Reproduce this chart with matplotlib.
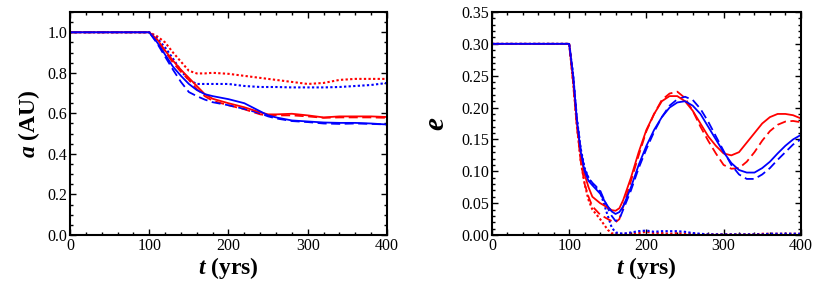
import numpy as np
import matplotlib.pyplot as plt
from matplotlib.ticker import MultipleLocator

plt.rcParams['font.family'] = ['Liberation Serif', 'DejaVu Serif']
plt.rcParams['mathtext.fontset'] = 'custom'
plt.rcParams['mathtext.rm'] = 'Liberation Serif'
plt.rcParams['mathtext.it'] = 'Liberation Serif:italic:bold'
plt.rcParams['mathtext.bf'] = 'Liberation Serif:bold'

# semi-major axis, time in yrs
t_a = [0, 100, 110, 120, 130, 140, 150, 160, 170, 180, 200, 220, 240, 250, 260, 280, 300, 320, 340, 360, 380, 400]
a_red_solid = [1.0, 1.0, 0.965, 0.91, 0.86, 0.815, 0.775, 0.735, 0.695, 0.672, 0.65, 0.63, 0.605, 0.595, 0.595, 0.598, 0.59, 0.58, 0.585, 0.585, 0.585, 0.582]
a_red_dash = [1.0, 1.0, 0.96, 0.905, 0.85, 0.805, 0.765, 0.72, 0.685, 0.662, 0.64, 0.62, 0.595, 0.59, 0.59, 0.59, 0.585, 0.578, 0.58, 0.58, 0.58, 0.578]
a_red_dot = [1.0, 1.0, 0.98, 0.95, 0.90, 0.855, 0.81, 0.797, 0.797, 0.80, 0.795, 0.785, 0.775, 0.77, 0.765, 0.755, 0.745, 0.75, 0.765, 0.77, 0.77, 0.77]
a_blue_solid = [1.0, 1.0, 0.95, 0.89, 0.83, 0.785, 0.745, 0.715, 0.695, 0.685, 0.67, 0.65, 0.61, 0.59, 0.58, 0.565, 0.56, 0.555, 0.553, 0.553, 0.55, 0.545]
a_blue_dash = [1.0, 1.0, 0.945, 0.88, 0.815, 0.755, 0.705, 0.685, 0.668, 0.655, 0.64, 0.622, 0.60, 0.585, 0.575, 0.562, 0.557, 0.55, 0.548, 0.55, 0.548, 0.545]
a_blue_dot = [1.0, 1.0, 0.97, 0.925, 0.87, 0.81, 0.765, 0.745, 0.745, 0.745, 0.745, 0.735, 0.73, 0.73, 0.73, 0.728, 0.728, 0.728, 0.73, 0.735, 0.74, 0.75]

# eccentricity
t_e = [0, 100, 105, 110, 115, 120, 125, 130, 140, 150, 155, 160, 165, 170, 180, 190, 200, 210, 220, 230, 240, 250, 260, 270, 280, 290, 300, 310, 320, 330, 340, 350, 360, 370, 380, 390, 400]
e_red_solid = [0.30, 0.30, 0.245, 0.175, 0.125, 0.095, 0.075, 0.06, 0.05, 0.043, 0.039, 0.038, 0.042, 0.055, 0.09, 0.13, 0.165, 0.19, 0.21, 0.218, 0.218, 0.21, 0.195, 0.175, 0.155, 0.14, 0.128, 0.125, 0.13, 0.145, 0.16, 0.175, 0.185, 0.19, 0.19, 0.188, 0.183]
e_red_dash = [0.30, 0.30, 0.24, 0.17, 0.115, 0.08, 0.06, 0.045, 0.032, 0.025, 0.022, 0.02, 0.025, 0.045, 0.085, 0.125, 0.163, 0.19, 0.212, 0.222, 0.225, 0.215, 0.195, 0.17, 0.148, 0.128, 0.11, 0.104, 0.105, 0.115, 0.13, 0.148, 0.163, 0.173, 0.178, 0.179, 0.177]
e_red_dot = [0.30, 0.30, 0.24, 0.17, 0.115, 0.08, 0.055, 0.04, 0.025, 0.008, 0.003, 0.001, 0.001, 0.002, 0.002, 0.003, 0.005, 0.003, 0.003, 0.002, 0.003, 0.002, 0.002, 0.001, 0.001, 0.001, 0.001, 0.001, 0.001, 0.001, 0.001, 0.002, 0.002, 0.002, 0.002, 0.002, 0.002]
e_blue_solid = [0.30, 0.30, 0.25, 0.18, 0.13, 0.10, 0.085, 0.078, 0.065, 0.045, 0.037, 0.033, 0.036, 0.045, 0.075, 0.11, 0.14, 0.165, 0.185, 0.20, 0.208, 0.21, 0.203, 0.19, 0.17, 0.15, 0.13, 0.113, 0.102, 0.098, 0.098, 0.105, 0.115, 0.128, 0.14, 0.15, 0.157]
e_blue_dash = [0.30, 0.30, 0.252, 0.182, 0.133, 0.103, 0.09, 0.082, 0.07, 0.042, 0.03, 0.022, 0.025, 0.04, 0.07, 0.105, 0.135, 0.162, 0.185, 0.203, 0.213, 0.217, 0.212, 0.198, 0.178, 0.155, 0.132, 0.11, 0.095, 0.088, 0.088, 0.095, 0.105, 0.118, 0.13, 0.142, 0.15]
e_blue_dot = [0.30, 0.30, 0.252, 0.182, 0.135, 0.105, 0.09, 0.08, 0.068, 0.03, 0.012, 0.004, 0.003, 0.002, 0.004, 0.006, 0.007, 0.005, 0.006, 0.006, 0.006, 0.005, 0.003, 0.002, 0.001, 0.001, 0.001, 0.001, 0.001, 0.001, 0.001, 0.001, 0.002, 0.002, 0.002, 0.002, 0.002]

RED = '#ff0000'
BLUE = '#0000ff'

fig = plt.figure(figsize=(8.3, 2.94), dpi=100)
ax1 = fig.add_axes([0.0843, 0.2007, 0.382, 0.7585])
ax2 = fig.add_axes([0.5928, 0.2007, 0.372, 0.7585])

def style(ax, ymax, ymaj, ymin, fmt):
    ax.set_xlim(0, 400)
    ax.set_ylim(0, ymax)
    ax.xaxis.set_major_locator(MultipleLocator(100))
    ax.xaxis.set_minor_locator(MultipleLocator(20))
    ax.yaxis.set_major_locator(MultipleLocator(ymaj))
    ax.yaxis.set_minor_locator(MultipleLocator(ymin))
    ax.yaxis.set_major_formatter(plt.FormatStrFormatter(fmt))
    ax.tick_params(which='both', direction='in', top=True, right=True, labelsize=11.5, width=1.0, pad=2)
    ax.tick_params(which='major', length=4)
    ax.tick_params(which='minor', length=2)
    for s in ax.spines.values():
        s.set_linewidth(1.5)
    ax.set_xlabel(r'$t$ (yrs)', fontsize=17, fontweight='bold', labelpad=1)

lw = 1.3
dot = (0, (1.1, 1.1))
dash = (0, (5, 2.5))
ax1.plot(t_a, a_red_dot, color=RED, ls=dot, lw=1.5)
ax1.plot(t_a, a_blue_dot, color=BLUE, ls=dot, lw=1.5)
ax1.plot(t_a, a_red_dash, color=RED, ls=dash, lw=lw)
ax1.plot(t_a, a_blue_dash, color=BLUE, ls=dash, lw=lw)
ax1.plot(t_a, a_red_solid, color=RED, lw=lw)
ax1.plot(t_a, a_blue_solid, color=BLUE, lw=lw)
style(ax1, 1.1, 0.2, 0.05, '%.1f')
ax1.set_ylabel(r'$a$ (AU)', fontsize=17, fontweight='bold', labelpad=4)

ax2.plot(t_e, e_red_dot, color=RED, ls=dot, lw=1.5)
ax2.plot(t_e, e_blue_dot, color=BLUE, ls=dot, lw=1.5)
ax2.plot(t_e, e_red_dash, color=RED, ls=dash, lw=lw)
ax2.plot(t_e, e_blue_dash, color=BLUE, ls=dash, lw=lw)
ax2.plot(t_e, e_red_solid, color=RED, lw=lw)
ax2.plot(t_e, e_blue_solid, color=BLUE, lw=lw)
style(ax2, 0.35, 0.05, 0.01, '%.2f')
ax2.set_ylabel(r'$e$', fontsize=21, labelpad=8)

fig.savefig('out.png', dpi=100)
